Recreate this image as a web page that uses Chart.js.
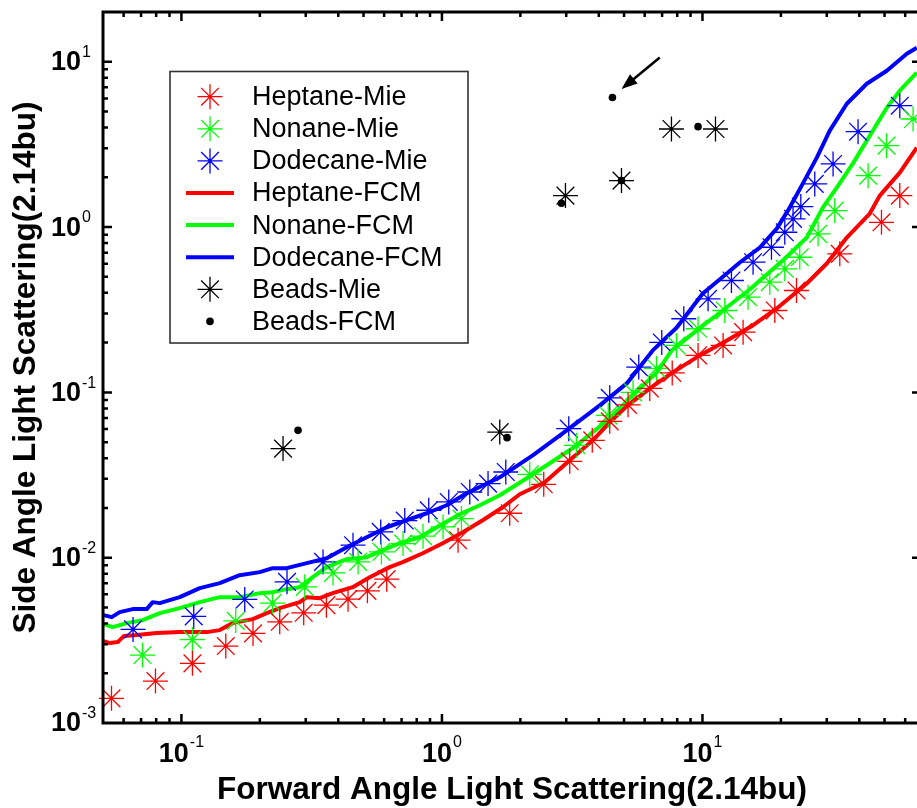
<!DOCTYPE html>
<html>
<head>
<meta charset="utf-8">
<script src="https://cdn.jsdelivr.net/npm/chart.js@4.4.1/dist/chart.umd.min.js"></script>
<style>
  html, body { margin: 0; padding: 0; background: #fff; overflow: hidden; }
  #chart { display: block; }
</style>
</head>
<body>
<canvas id="chart" width="922" height="808"></canvas>
<script>
// Mie theory markers
const heptaneMieX = [0.0539, 0.0795, 0.1102, 0.148, 0.1883, 0.2384, 0.2947, 0.3601, 0.4361, 0.5176, 0.6138, 1.153, 1.82, 2.459, 3.094, 3.776, 4.406, 5.181, 6.277, 7.655, 9.618, 12.0, 14.32, 18.95, 22.96, 33.66, 48.66, 57.21];
const heptaneMieY = [0.00141, 0.001794, 0.002295, 0.00292, 0.003483, 0.004093, 0.00464, 0.005164, 0.005613, 0.006301, 0.007418, 0.01276, 0.01857, 0.0278, 0.03828, 0.05129, 0.06681, 0.08403, 0.1057, 0.1312, 0.1674, 0.1923, 0.2314, 0.3129, 0.4134, 0.6887, 1.069, 1.55];
const nonaneMieX = [0.0709, 0.1102, 0.1616, 0.2236, 0.2974, 0.3819, 0.4765, 0.5857, 0.7091, 0.8461, 1.01, 1.188, 2.173, 3.283, 4.349, 5.415, 6.659, 7.947, 9.618, 12.18, 14.96, 18.13, 20.7, 23.63, 27.79, 32.2, 43.23, 50.85, 64.33];
const nonaneMieY = [0.002576, 0.003195, 0.00415, 0.005311, 0.006661, 0.008093, 0.009432, 0.01084, 0.01218, 0.01349, 0.01535, 0.01725, 0.03195, 0.04784, 0.07261, 0.1, 0.1396, 0.1923, 0.2426, 0.3129, 0.3765, 0.4639, 0.5591, 0.657, 0.9097, 1.258, 2.047, 3.108, 4.505];
const dodecaneMieX = [0.0652, 0.1115, 0.175, 0.2543, 0.3496, 0.4557, 0.5821, 0.7198, 0.8899, 1.062, 1.279, 1.503, 1.758, 3.067, 4.406, 5.694, 6.978, 8.478, 10.51, 12.92, 15.64, 18.4, 20.7, 22.27, 23.85, 26.98, 31.72, 39.56, 57.21];
const dodecaneMieY = [0.003682, 0.004413, 0.00559, 0.007142, 0.009432, 0.0119, 0.01432, 0.01678, 0.01936, 0.02174, 0.02497, 0.02807, 0.03299, 0.06035, 0.09265, 0.1422, 0.2005, 0.2788, 0.3683, 0.4751, 0.6129, 0.755, 0.9302, 1.121, 1.33, 1.824, 2.409, 3.776, 5.422];

// FCM measured curves
const heptaneFcmX = [0.05031, 0.05305, 0.05693, 0.06005, 0.06739, 0.08039, 0.09851, 0.1251, 0.1403, 0.1574, 0.1878, 0.2126, 0.2384, 0.2845, 0.3027, 0.3396, 0.3809, 0.4545, 0.5282, 0.6302, 0.7071, 0.844, 1.007, 1.202, 1.434, 1.712, 1.989, 2.481, 3.094, 3.793, 4.406, 5.167, 6.277, 7.691, 9.763, 12.4, 15.6, 19.28, 25.14, 30.01, 35.81, 43.87, 47.93, 57.21, 66.48];
const heptaneFcmY = [0.00313, 0.003044, 0.003086, 0.003355, 0.003402, 0.003498, 0.003547, 0.003547, 0.003647, 0.004019, 0.00425, 0.00462, 0.004954, 0.005384, 0.00577, 0.005691, 0.006103, 0.006634, 0.007624, 0.008764, 0.009394, 0.01064, 0.01224, 0.01426, 0.01685, 0.02019, 0.02419, 0.02859, 0.03882, 0.05129, 0.06588, 0.08344, 0.1057, 0.1321, 0.1674, 0.2062, 0.254, 0.3218, 0.4557, 0.602, 0.8641, 1.207, 1.55, 2.135, 3.022];
const nonaneFcmX = [0.05031, 0.05448, 0.06166, 0.07103, 0.08254, 0.09851, 0.1176, 0.1403, 0.1674, 0.1998, 0.2242, 0.2536, 0.2845, 0.3192, 0.3612, 0.4311, 0.5145, 0.5925, 0.6887, 0.8219, 0.955, 1.17, 1.397, 1.667, 2.116, 2.593, 3.292, 4.406, 5.4, 6.677, 7.621, 9.508, 11.96, 15.19, 16.6, 20.34, 25.14, 28.96, 32.77, 37.76, 45.05, 51.0, 57.21, 66.48];
const nonaneFcmY = [0.003964, 0.003802, 0.004019, 0.004192, 0.00462, 0.004954, 0.005384, 0.00577, 0.00577, 0.006103, 0.006188, 0.006451, 0.006634, 0.007624, 0.008764, 0.009793, 0.01007, 0.0111, 0.01224, 0.0133, 0.01528, 0.01832, 0.02076, 0.02385, 0.03022, 0.03724, 0.04784, 0.06965, 0.09592, 0.1321, 0.1794, 0.237, 0.3129, 0.4193, 0.4751, 0.6276, 0.8641, 1.312, 1.732, 2.419, 3.829, 5.273, 6.681, 8.582];
const dodecaneFcmX = [0.05031, 0.054, 0.05795, 0.06501, 0.07358, 0.07758, 0.08254, 0.09851, 0.1176, 0.1403, 0.1674, 0.1998, 0.2242, 0.2536, 0.3027, 0.3612, 0.4311, 0.5145, 0.6138, 0.7325, 0.8741, 1.043, 1.245, 1.667, 2.231, 3.013, 4.035, 5.122, 6.445, 7.967, 10.03, 12.4, 13.91, 16.6, 19.28, 21.63, 24.27, 27.47, 30.81, 35.81, 42.72, 51.0, 60.86, 66.48];
const dodecaneFcmY = [0.004493, 0.00437, 0.004685, 0.004885, 0.004885, 0.005384, 0.005311, 0.00577, 0.006542, 0.007015, 0.007838, 0.008179, 0.008645, 0.008645, 0.009264, 0.009931, 0.01157, 0.0133, 0.01528, 0.01685, 0.01857, 0.02076, 0.02453, 0.03064, 0.04162, 0.05894, 0.08344, 0.1133, 0.1794, 0.247, 0.3963, 0.5236, 0.6104, 0.7517, 0.9793, 1.312, 1.832, 2.63, 3.829, 5.574, 7.362, 8.823, 11.18, 12.15];

// Beads
const beadsMieX = [0.2455, 1.667, 2.979, 4.888, 7.603, 11.22];
const beadsMieY = [0.04569, 0.05756, 1.55, 1.91, 3.92, 3.92];
const beadsFcmX = [0.2803, 1.778, 2.875, 4.888, 4.512, 9.618];
const beadsFcmY = [0.05894, 0.05324, 1.393, 1.91, 6.084, 4.049];

// arrow annotation (data coordinates): tail, tip
const arrowTail = [6.857, 10.62];
const arrowTip = [4.888, 6.84];

const xTickExponents = ['-1', '0', '1'];
const yTickExponents = ['-3', '-2', '-1', '0', '1'];

const FONT = '"Liberation Sans", Arial, sans-serif';

function toPoints(xs, ys) {
  return xs.map((v, i) => ({ x: v, y: ys[i] }));
}

function minorValues(min, max) {
  const out = [];
  for (let d = Math.pow(10, Math.floor(Math.log10(min))); d < max; d *= 10) {
    for (let m = 1; m <= 9; m++) {
      const v = m * d;
      if (v > min * 1.0001 && v < max * 0.9999) out.push({ v: v, major: m === 1 });
    }
  }
  return out;
}

const axesPlugin = {
  id: 'boxAxes',
  afterDraw(chart) {
    const { ctx, chartArea: a, scales: { x, y } } = chart;
    ctx.save();
    ctx.strokeStyle = '#000';
    ctx.lineWidth = 3;
    ctx.strokeRect(a.left, a.top, a.right - a.left, a.bottom - a.top);

    ctx.lineWidth = 2.5;
    ctx.beginPath();
    minorValues(x.min, x.max).forEach(t => {
      const px = x.getPixelForValue(t.v);
      const len = t.major ? 9 : 5;
      ctx.moveTo(px, a.bottom); ctx.lineTo(px, a.bottom - len);
      ctx.moveTo(px, a.top); ctx.lineTo(px, a.top + len);
    });
    minorValues(y.min, y.max).forEach(t => {
      const py = y.getPixelForValue(t.v);
      const len = t.major ? 9 : 5;
      ctx.moveTo(a.left, py); ctx.lineTo(a.left + len, py);
      ctx.moveTo(a.right, py); ctx.lineTo(a.right - (t.major ? 9 : 3.5), py);
    });
    ctx.stroke();

    // tick labels: 10 with superscript exponent
    const baseFont = 'bold 27px ' + FONT;
    const expFont = '16px ' + FONT;
    ctx.fillStyle = '#000';
    ctx.textBaseline = 'middle';
    ctx.textAlign = 'left';
    xTickExponents.forEach(e => {
      const px = x.getPixelForValue(Math.pow(10, Number(e)));
      ctx.font = baseFont; const wb = ctx.measureText('10').width;
      ctx.font = expFont; const we = ctx.measureText(e).width;
      const x0 = px - (wb + we + 1) / 2;
      ctx.font = baseFont; ctx.fillText('10', x0, a.bottom + 32);
      ctx.font = expFont; ctx.fillText(e, x0 + wb + 1, a.bottom + 20);
    });
    yTickExponents.forEach(e => {
      const py = y.getPixelForValue(Math.pow(10, Number(e)));
      ctx.font = baseFont; const wb = ctx.measureText('10').width;
      ctx.fillText('10', 51, py + 1);
      ctx.font = expFont; ctx.fillText(e, 51 + wb + 1, py - 9);
    });

    // arrow
    const tx = x.getPixelForValue(arrowTail[0]), ty = y.getPixelForValue(arrowTail[1]);
    const hx = x.getPixelForValue(arrowTip[0]), hy = y.getPixelForValue(arrowTip[1]);
    const ang = Math.atan2(hy - ty, hx - tx);
    ctx.lineWidth = 2.5;
    ctx.beginPath();
    ctx.moveTo(tx, ty);
    ctx.lineTo(hx - 10 * Math.cos(ang), hy - 10 * Math.sin(ang));
    ctx.stroke();
    ctx.beginPath();
    ctx.moveTo(hx, hy);
    ctx.lineTo(hx - 16 * Math.cos(ang) + 6 * Math.sin(ang), hy - 16 * Math.sin(ang) - 6 * Math.cos(ang));
    ctx.lineTo(hx - 16 * Math.cos(ang) - 6 * Math.sin(ang), hy - 16 * Math.sin(ang) + 6 * Math.cos(ang));
    ctx.closePath();
    ctx.fill();
    ctx.restore();
  }
};

const legendPlugin = {
  id: 'boxLegend',
  afterDraw(chart) {
    const ctx = chart.ctx;
    ctx.save();
    ctx.fillStyle = '#fff';
    ctx.fillRect(170, 71.5, 298, 271.5);
    ctx.strokeStyle = '#333';
    ctx.lineWidth = 1.6;
    ctx.strokeRect(170, 71.5, 298, 271.5);
    chart.data.datasets.forEach((ds, i) => {
      const yy = 96.7 + i * 32.1;
      if (ds.showLine) {
        ctx.strokeStyle = ds.borderColor;
        ctx.lineWidth = 4;
        ctx.beginPath();
        ctx.moveTo(186, yy); ctx.lineTo(234, yy);
        ctx.stroke();
      } else {
        ctx.strokeStyle = ds.borderColor;
        ctx.fillStyle = ds.backgroundColor;
        ctx.lineWidth = ds.borderWidth;
        Chart.helpers.drawPoint(ctx, {
          pointStyle: ds.pointStyle, radius: ds.pointRadius,
          rotation: 0, borderWidth: ds.borderWidth
        }, 210, yy);
      }
      ctx.fillStyle = '#000';
      ctx.font = '27px ' + FONT;
      ctx.textBaseline = 'middle';
      ctx.textAlign = 'left';
      ctx.fillText(ds.label, 252, yy + 1);
    });
    ctx.restore();
  }
};

function starSet(label, xs, ys, color) {
  return {
    label: label, data: toPoints(xs, ys), showLine: false,
    pointStyle: 'star', pointRadius: 12.5, borderWidth: 1.3,
    borderColor: color, backgroundColor: color, clip: false
  };
}
function lineSet(label, xs, ys, color) {
  return {
    label: label, data: toPoints(xs, ys), showLine: true,
    pointRadius: 0, borderWidth: 4, borderColor: color,
    backgroundColor: color, tension: 0, borderJoinStyle: 'round'
  };
}

const titleFont = { family: FONT, size: 31.5, weight: 'bold', lineHeight: 1 };

new Chart(document.getElementById('chart'), {
  type: 'scatter',
  data: {
    datasets: [
      starSet('Heptane-Mie', heptaneMieX, heptaneMieY, '#ff0000'),
      starSet('Nonane-Mie', nonaneMieX, nonaneMieY, '#00ff00'),
      starSet('Dodecane-Mie', dodecaneMieX, dodecaneMieY, '#0000ff'),
      lineSet('Heptane-FCM', heptaneFcmX, heptaneFcmY, '#ff0000'),
      lineSet('Nonane-FCM', nonaneFcmX, nonaneFcmY, '#00ff00'),
      lineSet('Dodecane-FCM', dodecaneFcmX, dodecaneFcmY, '#0000ff'),
      starSet('Beads-Mie', beadsMieX, beadsMieY, '#000000'),
      {
        label: 'Beads-FCM', data: toPoints(beadsFcmX, beadsFcmY), showLine: false,
        pointStyle: 'circle', pointRadius: 3.8, borderWidth: 0,
        borderColor: '#000000', backgroundColor: '#000000', clip: false
      }
    ]
  },
  options: {
    responsive: false,
    animation: false,
    events: [],
    layout: { autoPadding: false, padding: { top: 12, right: 1, left: 0, bottom: 0 } },
    plugins: { legend: { display: false }, tooltip: { enabled: false } },
    scales: {
      x: {
        type: 'logarithmic', min: 0.05, max: 69,
        grid: { display: false }, border: { display: false },
        ticks: { display: false },
        title: { display: true, text: 'Forward Angle Light Scattering(2.14bu)', color: '#000', font: titleFont, padding: { top: 0, bottom: 2 } },
        afterFit(s) { s.height = 85; }
      },
      y: {
        type: 'logarithmic', min: 0.001, max: 20,
        grid: { display: false }, border: { display: false },
        ticks: { display: false },
        title: { display: true, text: 'Side Angle Light Scattering(2.14bu)', color: '#000', font: titleFont, padding: { top: 11, bottom: 0 } },
        afterFit(s) { s.width = 103; }
      }
    }
  },
  plugins: [axesPlugin, legendPlugin]
});
</script>
</body>
</html>
